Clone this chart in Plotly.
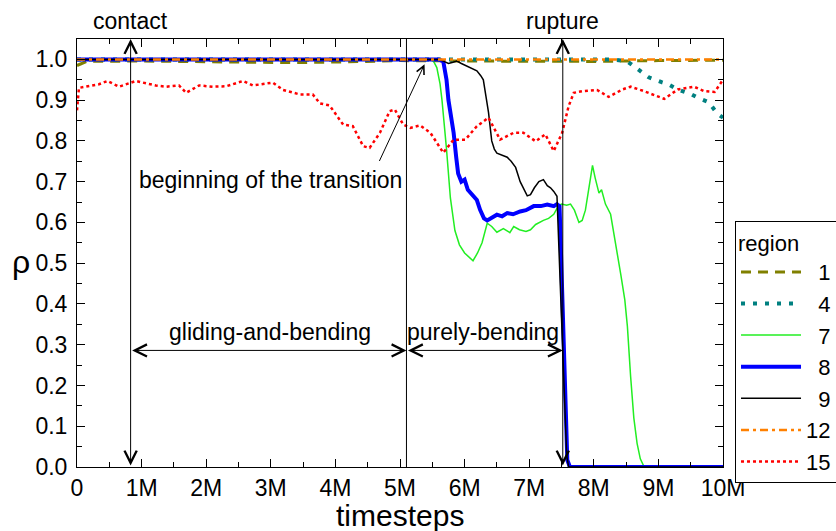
import plotly.graph_objects as go

# time axis in millions of timesteps
x_ticks = [0, 1, 2, 3, 4, 5, 6, 7, 8, 9, 10]
x_ticktext = ["0", "1M", "2M", "3M", "4M", "5M", "6M", "7M", "8M", "9M", "10M"]
y_ticks = [0.0, 0.1, 0.2, 0.3, 0.4, 0.5, 0.6, 0.7, 0.8, 0.9, 1.0]

# region 1
r1_x = [0, 0.15, 1.0, 2.0, 3.35, 4.2, 5.0, 6.0, 7.0, 8.0, 9.0, 10.0]
r1_y = [0.985, 0.995, 0.996, 0.995, 0.992, 0.994, 0.997, 0.996, 0.996, 0.995, 0.997, 0.998]

# region 4
r4_x = [0, 8.3, 8.52, 8.7, 8.85, 9.05, 9.15, 9.3, 9.5, 9.61, 9.78, 9.91, 10.0]
r4_y = [1.0, 1.0, 0.995, 0.974, 0.956, 0.944, 0.939, 0.926, 0.915, 0.906, 0.895, 0.867, 0.857]

# region 7
r7_x = [0, 5.45, 5.52, 5.57, 5.62, 5.65, 5.72, 5.78, 5.85, 5.92, 6.0, 6.07, 6.13, 6.2,
        6.27, 6.35, 6.42, 6.5, 6.6, 6.7, 6.76, 6.85, 6.95, 7.02, 7.1, 7.22, 7.3, 7.38,
        7.45, 7.5, 7.58, 7.64, 7.7, 7.77, 7.82, 7.87, 7.93, 7.98, 8.02, 8.08, 8.12, 8.18,
        8.26, 8.34, 8.42, 8.48, 8.52, 8.57, 8.62, 8.67, 8.72, 8.78, 10.0]
r7_y = [1.0, 1.0, 0.995, 0.98, 0.94, 0.90, 0.78, 0.66, 0.58, 0.545, 0.525, 0.515, 0.506, 0.525,
        0.55, 0.598, 0.59, 0.576, 0.585, 0.575, 0.59, 0.582, 0.578, 0.582, 0.595, 0.605, 0.61, 0.62,
        0.64, 0.645, 0.642, 0.645, 0.63, 0.60, 0.605, 0.63, 0.69, 0.74, 0.71, 0.672, 0.68, 0.645,
        0.62, 0.55, 0.47, 0.41, 0.345, 0.222, 0.12, 0.058, 0.02, 0.0, 0.0]

# region 8
r8_x = [0, 5.6, 5.67, 5.72, 5.75, 5.8, 5.83, 5.87, 5.9, 5.95, 6.0, 6.05, 6.1, 6.15, 6.19,
        6.24, 6.3, 6.35, 6.42, 6.5, 6.58, 6.66, 6.75, 6.86, 6.95, 7.07, 7.18, 7.28, 7.38,
        7.43, 7.47, 7.51, 7.56, 7.59, 7.63, 10.0]
r8_y = [1.0, 1.0, 0.995, 0.95, 0.90, 0.85, 0.82, 0.76, 0.72, 0.70, 0.705, 0.68, 0.67, 0.66, 0.655,
        0.631, 0.61, 0.605, 0.612, 0.619, 0.615, 0.623, 0.62, 0.627, 0.63, 0.64, 0.64, 0.644, 0.64,
        0.645, 0.64, 0.43, 0.15, 0.017, 0.0, 0.0]

# region 9
r9_x = [0, 5.6, 5.68, 5.75, 5.82, 5.88, 5.95, 6.03, 6.1, 6.19, 6.25, 6.29, 6.33, 6.37, 6.42,
        6.46, 6.5, 6.58, 6.66, 6.72, 6.79, 6.86, 6.92, 6.97, 7.02, 7.08, 7.15, 7.22, 7.28,
        7.33, 7.38, 7.43, 7.48, 7.54, 7.58, 7.61, 10.0]
r9_y = [1.0, 1.0, 0.995, 0.99, 0.993, 0.996, 0.99, 0.984, 0.98, 0.972, 0.96, 0.95, 0.91, 0.87, 0.80,
        0.78, 0.77, 0.765, 0.76, 0.75, 0.735, 0.70, 0.68, 0.665, 0.668, 0.685, 0.70, 0.705, 0.69,
        0.685, 0.676, 0.664, 0.45, 0.18, 0.03, 0.0, 0.0]

# region 12
r12_x = [0, 10.0]
r12_y = [1.0, 1.0]

# region 15
r15_x = [0, 0.03, 0.34, 0.47, 0.65, 0.91, 1.22, 1.38, 1.58, 1.69, 1.89, 2.10, 2.31, 2.57, 2.72,
         3.03, 3.19, 3.45, 3.65, 3.76, 3.91, 4.12, 4.27, 4.43, 4.53, 4.69, 4.84, 4.92, 5.05,
         5.16, 5.31, 5.47, 5.67, 5.83, 6.01, 6.19, 6.37, 6.55, 6.76, 6.91, 7.10, 7.25, 7.38,
         7.51, 7.61, 7.69, 7.82, 8.05, 8.23, 8.44, 8.57, 8.78, 9.09, 9.30, 9.55, 9.71, 9.87, 10.0]
r15_y = [0.875, 0.93, 0.939, 0.947, 0.933, 0.947, 0.936, 0.933, 0.936, 0.918, 0.936, 0.933, 0.934,
         0.947, 0.936, 0.943, 0.925, 0.914, 0.914, 0.892, 0.887, 0.840, 0.836, 0.787, 0.783,
         0.820, 0.873, 0.877, 0.84, 0.832, 0.838, 0.820, 0.771, 0.803, 0.803, 0.836, 0.857,
         0.803, 0.820, 0.820, 0.799, 0.816, 0.775, 0.820, 0.885, 0.918, 0.922, 0.925, 0.908,
         0.926, 0.933, 0.922, 0.903, 0.926, 0.933, 0.922, 0.920, 0.95]

# event markers (millions of timesteps) and the level of the phase arrows
t_contact = 0.83
t_phase = 5.1
t_rupture = 7.52
phase_arrow_y = 0.286
y_top = 1.05

FONT = "Liberation Sans, Arial, sans-serif"
FS = "\u2007"  # figure space keeps the one-digit labels aligned with two-digit ones

series = [
    (FS + "1", r1_x, r1_y, dict(color="#808000", width=3, dash="10px,7px")),
    (FS + "4", r4_x, r4_y, dict(color="#008080", width=4, dash="4px,8px")),
    (FS + "7", r7_x, r7_y, dict(color="#22ee22", width=1.5)),
    (FS + "8", r8_x, r8_y, dict(color="#0000ff", width=4)),
    (FS + "9", r9_x, r9_y, dict(color="#000000", width=1.5)),
    ("12", r12_x, r12_y, dict(color="#ff8000", width=2.5, dash="8px,4px,3px,4px")),
    ("15", r15_x, r15_y, dict(color="#ff0000", width=2.5, dash="3px,3px")),
]

fig = go.Figure()
for name, xs, ys, line in series:
    fig.add_trace(go.Scatter(x=xs, y=ys, mode="lines", name=name, line=line))

# boundary between the two regimes
fig.add_shape(type="line", x0=t_phase, x1=t_phase, y0=0, y1=y_top,
              xref="x", yref="y", line=dict(color="black", width=1))

def double_arrow(x0, y0, x1, y1):
    fig.add_annotation(x=x1, y=y1, ax=x0, ay=y0, xref="x", yref="y", axref="x", ayref="y",
                       text="", showarrow=True, arrowside="end+start",
                       arrowhead=5, startarrowhead=5, arrowsize=2.4, startarrowsize=2.4,
                       arrowwidth=1, arrowcolor="black", standoff=0, startstandoff=0)

double_arrow(t_contact, 0, t_contact, y_top)
double_arrow(t_rupture, 0, t_rupture, y_top)
double_arrow(t_contact, phase_arrow_y, t_phase, phase_arrow_y)
double_arrow(t_phase, phase_arrow_y, t_rupture, phase_arrow_y)

# pointer to the onset of the transition
fig.add_annotation(x=5.38, y=0.988, ax=4.67, ay=0.747, xref="x", yref="y", axref="x", ayref="y",
                   text="", showarrow=True, arrowhead=5, arrowsize=1.6, arrowwidth=1,
                   arrowcolor="black", standoff=0)

label_font = dict(family=FONT, size=23, color="black")

# event names sit above the frame
for txt, lx in [("contact", t_contact), ("rupture", t_rupture)]:
    fig.add_annotation(x=lx, y=1.043, xref="x", yref="paper", text=txt, showarrow=False,
                       xanchor="center", yanchor="middle", font=label_font)

labels = [
    ("gliding-and-bending", 2.98, 0.33),
    ("purely-bending", 6.28, 0.33),
    ("beginning of the transition", 3.0, 0.703),
]
for txt, lx, ly in labels:
    fig.add_annotation(x=lx, y=ly, xref="x", yref="y", text=txt, showarrow=False,
                       xanchor="center", yanchor="middle", font=label_font)

# axis titles
fig.add_annotation(x=-0.087, y=0.478, xref="paper", yref="paper", text="ρ", showarrow=False,
                   xanchor="center", yanchor="middle",
                   font=dict(family=FONT, size=32, color="black"))
fig.add_annotation(x=0.5, y=-0.114, xref="paper", yref="paper", text="timesteps",
                   showarrow=False, xanchor="center", yanchor="middle",
                   font=dict(family=FONT, size=30, color="black"))

axis_common = dict(showline=True, linecolor="black", linewidth=1, mirror="ticks",
                   ticks="inside", ticklen=8, tickwidth=1, tickcolor="black",
                   showgrid=False, zeroline=False,
                   tickfont=dict(family=FONT, size=23, color="black"))

fig.update_xaxes(range=[0, 10], tickvals=x_ticks, ticktext=x_ticktext,
                 minor=dict(ticks="inside", ticklen=5, dtick=0.5, tick0=0, tickcolor="black"),
                 **axis_common)
fig.update_yaxes(range=[0, y_top], tickvals=y_ticks, tickformat=".1f",
                 minor=dict(ticks="inside", ticklen=5, dtick=0.05, tick0=0, tickcolor="black"),
                 ticklabelstandoff=4,
                 **axis_common)

fig.update_layout(
    width=836, height=531,
    margin=dict(l=77, r=113, t=39, b=64, autoexpand=False),
    plot_bgcolor="white", paper_bgcolor="white",
    font=dict(family=FONT, color="black"),
    legend=dict(x=1.0186, y=0.5736, xanchor="left", yanchor="top",
                bordercolor="black", borderwidth=1, bgcolor="white",
                title=dict(text="region", font=dict(family=FONT, size=22)),
                font=dict(family=FONT, size=22), itemwidth=60,
                tracegroupgap=0),
)

fig.write_html("out.html")
